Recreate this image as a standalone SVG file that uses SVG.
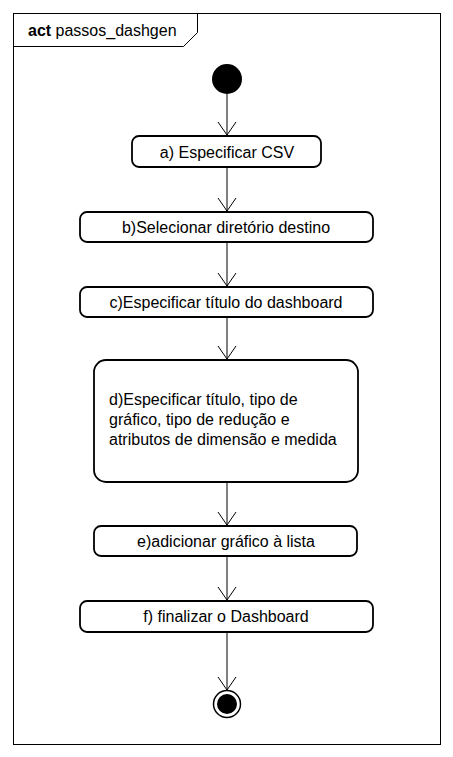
<svg xmlns="http://www.w3.org/2000/svg" width="453" height="757" viewBox="0 0 453 757">
<style>
.act{fill:#fff;stroke:#000;stroke-width:1.8}
.t{font-family:"Liberation Sans",Arial,sans-serif;font-size:16px;fill:#000}
.c{text-anchor:middle}
.ln{fill:none;stroke:#000;stroke-width:1}
</style>
<defs>
<marker id="ah" viewBox="0 0 20 20" refX="14" refY="10" markerWidth="20" markerHeight="20" markerUnits="userSpaceOnUse" orient="auto">
<path d="M1,1 L14,10 L1,19" fill="none" stroke="#000" stroke-width="1"/>
</marker>
</defs>
<rect width="453" height="757" fill="#fff"/>
<g id="frame">
<rect x="13.5" y="13.5" width="427" height="731" fill="none" stroke="#000" stroke-width="1"/>
<path d="M13.5,46.5 L183.5,46.5 L197.5,32.5 L197.5,13.5" fill="none" stroke="#000" stroke-width="1"/>
<text class="t" x="28" y="36"><tspan font-weight="bold">act</tspan> passos_dashgen</text>
</g>
<g id="connectors">
<line class="ln" x1="227" y1="94" x2="227" y2="135" marker-end="url(#ah)"/>
<line class="ln" x1="227" y1="168" x2="227" y2="211" marker-end="url(#ah)"/>
<line class="ln" x1="227" y1="243" x2="227" y2="286" marker-end="url(#ah)"/>
<line class="ln" x1="227" y1="318" x2="227" y2="359" marker-end="url(#ah)"/>
<line class="ln" x1="227" y1="483" x2="227" y2="525" marker-end="url(#ah)"/>
<line class="ln" x1="227" y1="557" x2="227" y2="600" marker-end="url(#ah)"/>
<line class="ln" x1="227" y1="633" x2="227" y2="690" marker-end="url(#ah)"/>
</g>
<g id="start"><circle cx="227" cy="79" r="15" fill="#000"/></g>
<g id="a"><rect class="act" x="132" y="136" width="189" height="31" rx="7"/><text class="t c" x="227" y="158">a) Especificar CSV</text></g>
<g id="b"><rect class="act" x="80" y="212" width="293" height="30" rx="7"/><text class="t c" x="226" y="233">b)Selecionar diretório destino</text></g>
<g id="c"><rect class="act" x="80" y="287" width="293" height="30" rx="7"/><text class="t c" x="226" y="308">c)Especificar título do dashboard</text></g>
<g id="d"><rect class="act" x="94" y="360" width="264" height="122" rx="12"/><text class="t" x="109"><tspan x="109" y="405">d)Especificar título, tipo de</tspan><tspan x="109" y="425">gráfico, tipo de redução e</tspan><tspan x="109" y="445">atributos de dimensão e medida</tspan></text></g>
<g id="e"><rect class="act" x="94" y="526" width="263" height="30" rx="7"/><text class="t c" x="226" y="547">e)adicionar gráfico à lista</text></g>
<g id="f"><rect class="act" x="80" y="601" width="293" height="31" rx="7"/><text class="t c" x="226" y="622">f) finalizar o Dashboard</text></g>
<g id="end"><circle cx="227" cy="704" r="13.5" fill="#fff" stroke="#000" stroke-width="1.5"/><circle cx="227" cy="704" r="10" fill="#000"/></g>
</svg>
